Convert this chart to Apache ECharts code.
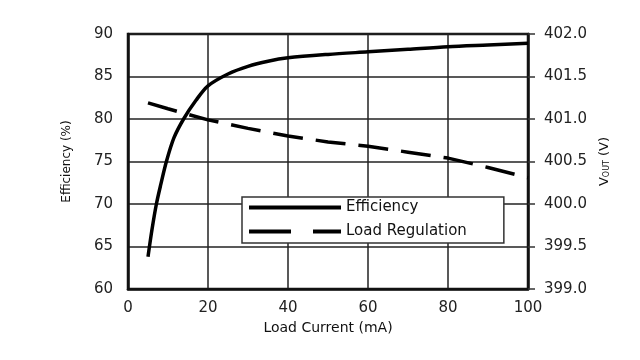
<!DOCTYPE html>
<html>
<head>
<meta charset="utf-8">
<script src="https://cdn.jsdelivr.net/npm/echarts@6/dist/echarts.min.js"></script>
<style>html,body{margin:0;padding:0;background:#fff}#c{width:640px;height:360px}</style>
</head>
<body>
<div id="c"></div>
<script>
// Data
var effX = [5, 6, 7.1, 8.2, 9.6, 11.5, 13.9, 17, 20, 25, 30, 35, 40, 50, 60, 70, 80, 90, 100];
var effY = [63.8, 67, 70, 72.3, 75, 77.8, 80, 82.2, 83.9, 85.3, 86.2, 86.8, 87.2, 87.6, 87.9, 88.2, 88.5, 88.7, 88.9];
var regX = [5, 10, 20, 30, 40, 50, 60, 70, 80, 90, 100];
var regY = [401.19, 401.12, 400.99, 400.89, 400.80, 400.73, 400.68, 400.61, 400.54, 400.43, 400.31];
var seriesNames = ['Efficiency', 'Load Regulation'];
var xName = 'Load Current (mA)';
var yLeftName = 'Efficiency (%)';

function pairs(xs, ys) { return xs.map(function (x, i) { return [x, ys[i]]; }); }

var FONT = 'DejaVu Sans';
var chart = echarts.init(document.getElementById('c'), null, {renderer: 'canvas'});
chart.setOption({
  backgroundColor: '#fff',
  animation: false,
  grid: {left: 128, right: 112, top: 34, bottom: 71, show: true, borderColor: '#111', borderWidth: 2.5, backgroundColor: 'transparent'},
  legend: {
    orient: 'vertical', left: 242, top: 197,
    padding: [3, 37, 4, 5],
    itemWidth: 92, itemHeight: 14, itemGap: 9,
    backgroundColor: '#fff', borderColor: '#333', borderWidth: 1.5, borderRadius: 0,
    itemStyle: {color: 'rgba(0,0,0,0)', borderWidth: 0},
    textStyle: {fontFamily: FONT, fontSize: 15, color: '#111'},
    data: [
      {name: seriesNames[0], lineStyle: {width: 4, color: '#000'}},
      {name: seriesNames[1], lineStyle: {width: 4, color: '#000', type: [42, 22]}}
    ]
  },
  xAxis: {
    type: 'value', min: 0, max: 100, interval: 20,
    name: xName, nameLocation: 'middle', nameGap: 32,
    nameTextStyle: {fontFamily: FONT, fontSize: 14, color: '#111'},
    axisLine: {show: true, lineStyle: {color: '#111', width: 2.5}},
    axisTick: {show: false},
    axisLabel: {fontFamily: FONT, fontSize: 15, color: '#222', margin: 12},
    splitLine: {show: true, lineStyle: {color: '#222', width: 1.5}}
  },
  yAxis: [{
    type: 'value', min: 60, max: 90, interval: 5,
    name: yLeftName, nameLocation: 'middle', nameGap: 55, nameRotate: 90,
    nameTextStyle: {fontFamily: FONT, fontSize: 12, color: '#111'},
    axisLine: {show: true, lineStyle: {color: '#111', width: 2.5}},
    axisTick: {show: false},
    axisLabel: {fontFamily: FONT, fontSize: 15, color: '#222', margin: 15},
    splitLine: {show: true, lineStyle: {color: '#222', width: 1.5}}
  }, {
    type: 'value', min: 399, max: 402, interval: 0.5, position: 'right',
    name: 'V{sub|OUT} (V)', nameLocation: 'middle', nameGap: 55, nameRotate: 90,
    nameTextStyle: {fontFamily: FONT, fontSize: 13, color: '#111',
      rich: {sub: {fontFamily: FONT, fontSize: 8, color: '#111', verticalAlign: 'bottom', padding: [6, 0, 0, 0]}}},
    axisLine: {show: true, lineStyle: {color: '#111', width: 2.5}},
    axisTick: {show: true, inside: false, length: 7, lineStyle: {color: '#333', width: 1.5}},
    axisLabel: {fontFamily: FONT, fontSize: 15, color: '#222', margin: 16,
      formatter: function (v) { return v.toFixed(1); }},
    splitLine: {show: false}
  }],
  series: [{
    name: seriesNames[0], type: 'line', yAxisIndex: 0,
    data: pairs(effX, effY), smooth: 0.3, symbol: 'none',
    itemStyle: {color: '#000'},
    lineStyle: {color: '#000', width: 3.5}
  }, {
    name: seriesNames[1], type: 'line', yAxisIndex: 1,
    data: pairs(regX, regY), smooth: false, symbol: 'none',
    itemStyle: {color: '#000'},
    lineStyle: {color: '#000', width: 3.5, type: [30, 13]}
  }]
});
</script>
</body>
</html>
